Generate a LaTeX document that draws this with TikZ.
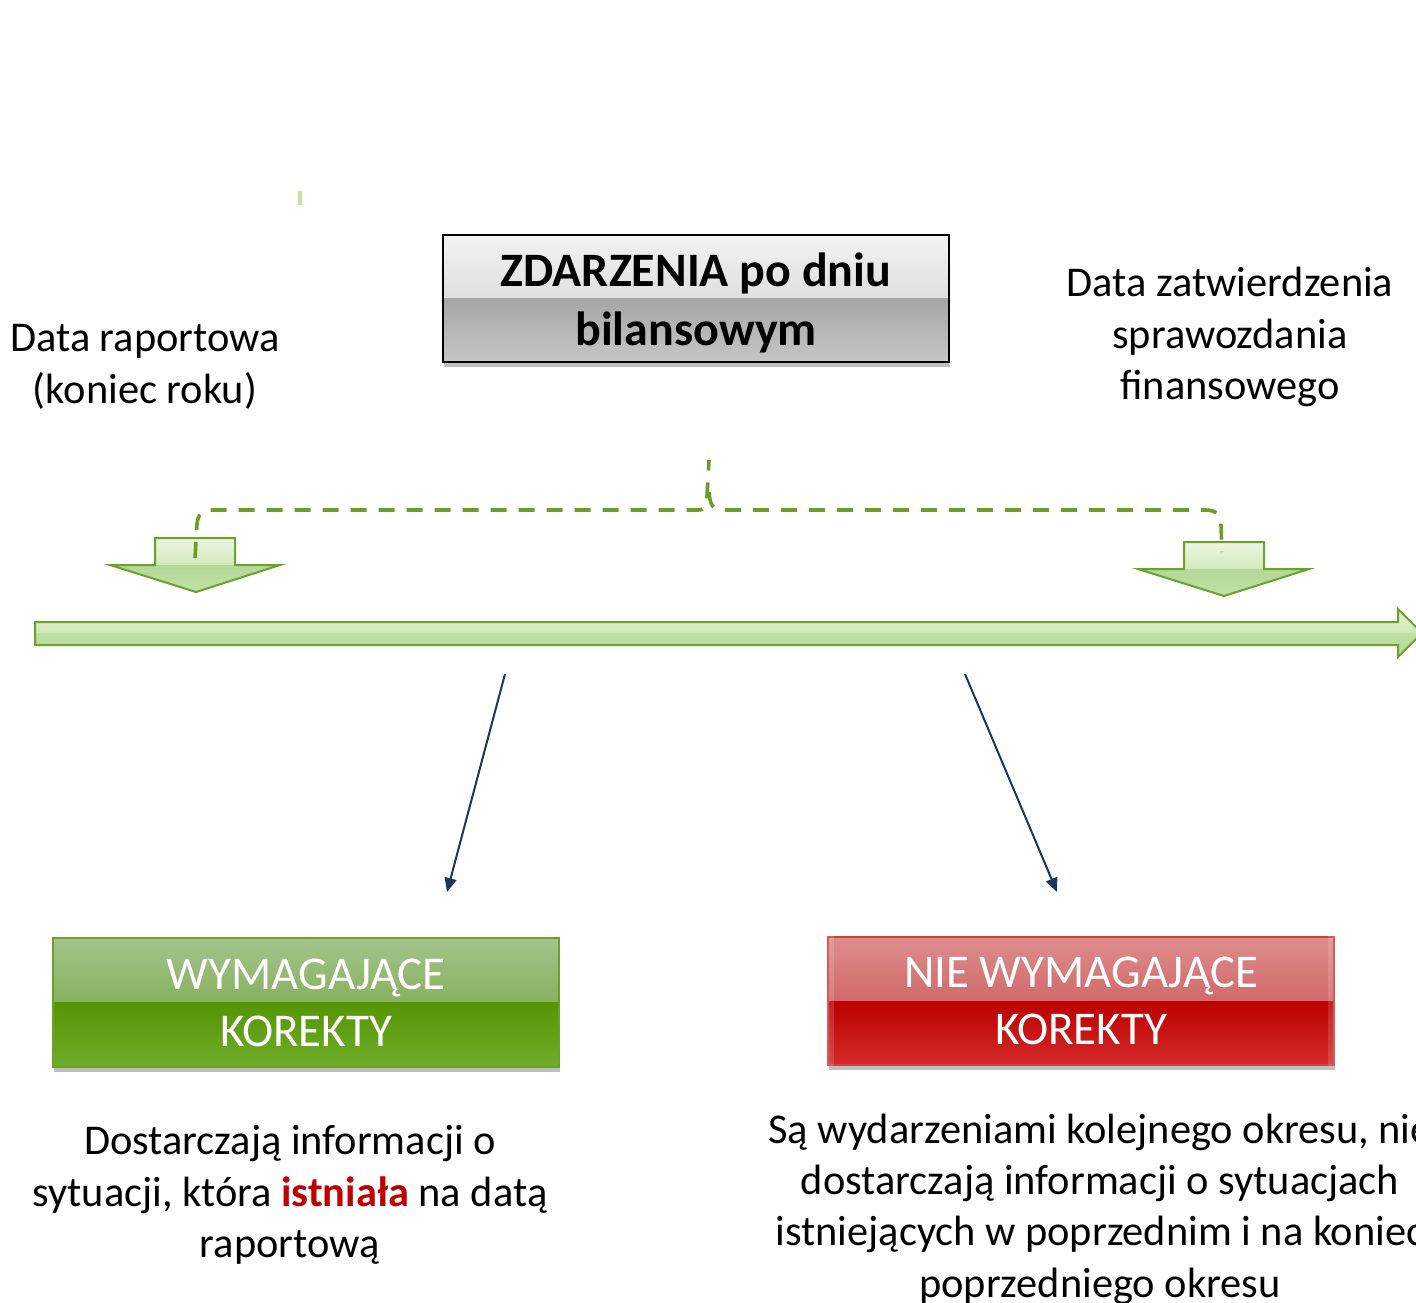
\documentclass[tikz,border=0pt]{standalone}
\usepackage{fontspec}
\setmainfont{Carlito}
\usetikzlibrary{shadows,arrows.meta,calc}

\definecolor{lineGreen}{HTML}{6AA22A}
\definecolor{dashGreen}{HTML}{6A9E26}
\definecolor{navyBlue}{HTML}{17375E}
\definecolor{accentRed}{HTML}{C00000}
\definecolor{tickGreen}{HTML}{C5E3A5}
% title box shades
\definecolor{greyA}{HTML}{F2F2F2}
\definecolor{greyB}{HTML}{CDCDCD}
\definecolor{greyC}{HTML}{A6A6A6}
\definecolor{greyD}{HTML}{C6C6C6}
% green box shades
\definecolor{leafA}{HTML}{A3C48B}
\definecolor{leafB}{HTML}{6C9E34}
\definecolor{leafC}{HTML}{559504}
\definecolor{leafD}{HTML}{70AD2B}
% red box shades
\definecolor{rubyA}{HTML}{DD8D8D}
\definecolor{rubyB}{HTML}{C44646}
\definecolor{rubyC}{HTML}{BC0000}
\definecolor{rubyD}{HTML}{D42A2A}
\definecolor{rubyEdge}{HTML}{D04040}
% time line and marker shades
\definecolor{mintA}{HTML}{E4F3D6}
\definecolor{mintB}{HTML}{CFE8B8}
\definecolor{mintC}{HTML}{BFE0A4}
\definecolor{mintD}{HTML}{B2D697}
\definecolor{mintE}{HTML}{EEF7E5}
\definecolor{mintF}{HTML}{D2E9BD}
\definecolor{mintG}{HTML}{B3D897}
\definecolor{mintH}{HTML}{C3E1AA}

\tikzset{
  bodytext/.style={align=center, inner sep=0pt,
    font=\fontsize{21.2}{25.7}\selectfont},
  twotone/.style n args={4}{
    path picture={
      \shade[top color=#1, bottom color=#2]
        (path picture bounding box.north west) rectangle (path picture bounding box.east);
      \shade[top color=#3, bottom color=#4]
        (path picture bounding box.west) rectangle (path picture bounding box.south east);
    }},
  labelbox/.style={minimum width=253pt, inner sep=0pt, align=center,
    drop shadow={shadow xshift=0.4pt, shadow yshift=-2.5pt, opacity=0.25, fill=black}},
  brace/.style={draw=dashGreen, line width=1.8pt, dash pattern=on 8pt off 6pt},
  pointer/.style={draw=navyBlue, line width=1pt,
    -{Triangle[length=7pt, width=6pt]}},
}

\begin{document}
\begin{tikzpicture}[x=0.5pt, y=-0.5pt]
\useasboundingbox (0,0) rectangle (1416,1302);

% small green tick mark
\fill[tickGreen] (298,191) rectangle (302,205);

% date labels
\node[bodytext] (reportdate) at (145,367) {Data raportowa\\(koniec roku)};
\node[bodytext] (approvaldate) at (1230,337) {Data zatwierdzenia\\sprawozdania\\finansowego};

% title box and its caption
\node[labelbox, minimum height=63.5pt, draw=black, line width=1pt,
      twotone={greyA}{greyB}{greyC}{greyD}] (title) at (696,298.5) {};
\node[align=center, inner sep=0pt, font=\fontsize{24}{29.5}\selectfont\bfseries]
  (titletext) at (696,302.5) {ZDARZENIA po dniu\\bilansowym};

% time line
\begin{scope}
  \path[clip] (35,622) -- (1398,622) -- (1398,609) -- (1422,633) -- (1398,657)
    -- (1398,645) -- (35,645) -- cycle;
  \shade[top color=mintA, bottom color=mintB] (30,605) rectangle (1425,633);
  \shade[top color=mintC, bottom color=mintD] (30,633) rectangle (1425,660);
\end{scope}
\draw[lineGreen, line width=1pt, line join=miter]
  (35,622) -- (1398,622) -- (1398,609) -- (1422,633) -- (1398,657)
  -- (1398,645) -- (35,645) -- cycle;

% left marker arrow
\begin{scope}
  \path[clip] (155,538) -- (235,538) -- (235,565) -- (280,565) -- (196,592)
    -- (110,565) -- (155,565) -- cycle;
  \shade[top color=mintE, bottom color=mintF] (100,536) rectangle (290,565);
  \shade[top color=mintG, bottom color=mintH] (100,565) rectangle (290,594);
\end{scope}
\draw[lineGreen, line width=1pt, line join=miter]
  (155,538) -- (235,538) -- (235,565) -- (280,565) -- (196,592)
  -- (110,565) -- (155,565) -- cycle;

% right marker arrow
\begin{scope}
  \path[clip] (1184,542) -- (1264,542) -- (1264,569) -- (1309,569) -- (1224,596)
    -- (1138,569) -- (1184,569) -- cycle;
  \shade[top color=mintE, bottom color=mintF] (1130,540) rectangle (1315,569);
  \shade[top color=mintG, bottom color=mintH] (1130,569) rectangle (1315,598);
\end{scope}
\draw[lineGreen, line width=1pt, line join=miter]
  (1184,542) -- (1264,542) -- (1264,569) -- (1309,569) -- (1224,596)
  -- (1138,569) -- (1184,569) -- cycle;

% dashed brace spanning the period
\draw[brace] (195,558) -- (197,524) .. controls (198,514) and (202,510) .. (212,510)
  -- (698,510) .. controls (705,510) and (707,505) .. (707,496) -- (709,460);
\draw[brace] (709,492) .. controls (710,505) and (713,510) .. (722,510)
  -- (1206,510) .. controls (1216,510) and (1221,515) .. (1221,526) -- (1222,552);

% outcome boxes
\node[labelbox, minimum height=64.5pt, draw=lineGreen, line width=0.8pt,
      twotone={leafA}{leafB}{leafC}{leafD},
      text=white, font=\fontsize{23.5}{28.5}\selectfont] (adjusting) at (306,1002.5)
  {WYMAGAJĄCE\\KOREKTY};
\node[labelbox, minimum height=64pt, draw=rubyEdge, line width=0.6pt,
      twotone={rubyA}{rubyB}{rubyC}{rubyD},
      text=white, font=\fontsize{23.5}{28.5}\selectfont] (nonadjusting) at (1081,1001)
  {NIE WYMAGAJĄCE\\KOREKTY};
% light bevel on the red box sides
\fill[white, opacity=0.14] (nonadjusting.north west) rectangle ([xshift=3.5pt]nonadjusting.south west);
\fill[white, opacity=0.14] ([xshift=-3.5pt]nonadjusting.north east) rectangle (nonadjusting.south east);

% pointers from the time line to the outcomes
\coordinate (pa) at (505,674);
\coordinate (pb) at (447,892);
\coordinate (qa) at (965,674);
\coordinate (qb) at (1057,892);
\draw[pointer] (pa) -- (pb);
\draw[pointer] (qa) -- (qb);

% descriptions
\node[bodytext] (adjdesc) at (290,1195)
  {Dostarczają informacji o\\sytuacji, która \textcolor{accentRed}{\textbf{istniała}} na datą\\raportową};
\node[bodytext] (nonadjdesc) at (1100,1209)
  {Są wydarzeniami kolejnego okresu, nie\\dostarczają informacji o sytuacjach\\istniejących w poprzednim i na koniec\\poprzedniego okresu};
\end{tikzpicture}
\end{document}
